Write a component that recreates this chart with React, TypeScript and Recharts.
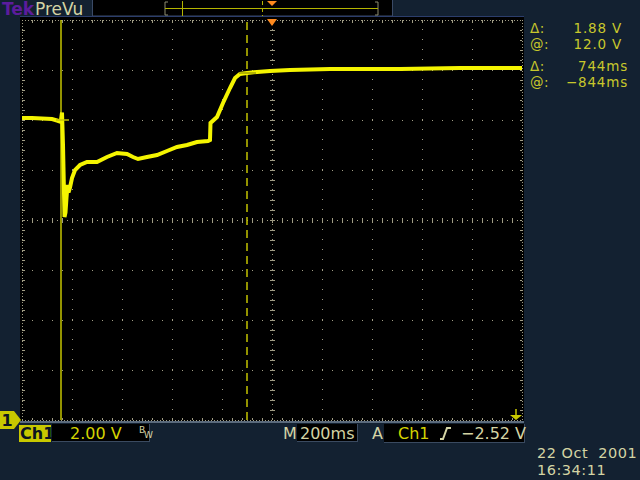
import React from 'react';
import { LineChart, Line, XAxis, YAxis, ReferenceLine, ReferenceDot } from 'recharts';

// Ch1 record: time relative to trigger (ms) and volts
const TIME_MS = [
  -1000, -960, -920, -880, -860, -848, -844, -840, -836, -830,
  -826, -822, -818, -814, -808, -800, -788, -768, -740, -700,
  -660, -620, -580, -556, -536, -500, -460, -420, -380, -340,
  -300, -256, -248, -246, -220, -196, -168, -148, -128, -100,
  -60, -8, 72, 232, 512, 752, 1000,
];
const CH1_VOLTS = [
  12.08, 12.08, 12.06, 12.04, 11.98, 11.94, 12.0, 12.3, 11.0, 8.12,
  8.3, 8.9, 9.4, 9.1, 9.3, 9.68, 10.0, 10.2, 10.32, 10.32,
  10.52, 10.68, 10.64, 10.52, 10.44, 10.52, 10.6, 10.76, 10.92, 11.0,
  11.12, 11.16, 11.2, 11.88, 12.12, 12.68, 13.28, 13.68, 13.84, 13.88,
  13.92, 13.96, 14.0, 14.04, 14.04, 14.08, 14.08,
];

// graticule: 200 ms/div, 2 V/div, ground on the bottom line
const TIME_RANGE = [-1000, 1000];
const VOLT_RANGE = [0, 16];
const TIME_DIVS = [-800, -600, -400, -200, 200, 400, 600, 800];
const VOLT_DIVS = [2, 4, 6, 10, 12, 14];
const TIME_CENTER = 0;
const VOLT_CENTER = 8;
const MINOR_MS = Array.from({ length: 49 }, (_, i) => -960 + i * 40);
const MINOR_V = Array.from({ length: 39 }, (_, i) => +(0.4 + i * 0.4).toFixed(1));

// cursors and markers
const CURSOR_A_MS = -844;
const CURSOR_B_MS = -100;
const CURSOR_A_V = 12.0;
const CURSOR_B_V = 13.88;
const TRIG_ARROW_MS = 976;

const READOUTS = [
  { label: 'Δ:', value: '1.88 V', top: 20, right: 622 },
  { label: '@:', value: '12.0 V', top: 36, right: 622 },
  { label: 'Δ:', value: '744ms', top: 58, right: 628 },
  { label: '@:', value: '−844ms', top: 74, right: 628 },
];

const data = TIME_MS.map((t, i) => ({ t, v: CH1_VOLTS[i] }));

const NAVY = '#132131';
const GRID = '#a09c84';
const TRACE = '#f4f400';
const CURSOR = '#c4c400';
const BEIGE = '#d4d4a4';
const OLIVE = '#c8c82c';

const txt = (extra: React.CSSProperties): React.CSSProperties => ({
  position: 'absolute',
  fontSize: 16,
  lineHeight: '16px',
  whiteSpace: 'pre',
  ...extra,
});

export default function App() {
  const crisp = { shapeRendering: 'crispEdges' } as any;
  return (
    <div
      style={{
        position: 'absolute',
        left: 0,
        top: 0,
        width: 640,
        height: 480,
        background: NAVY,
        overflow: 'hidden',
        fontFamily: '"DejaVu Sans", sans-serif',
      }}
    >
      {/* header */}
      <div style={txt({ left: 2, top: 0, fontSize: 17, lineHeight: '18px', color: '#5c1c9c', fontWeight: 700 })}>Tek</div>
      <div style={txt({ left: 35, top: 0, fontSize: 17, lineHeight: '18px', color: BEIGE })}>PreVu</div>
      <svg width={302} height={17} style={{ position: 'absolute', left: 92, top: 0 }}>
        <rect x={0.5} y={-1} width={300} height={17} fill="#000" stroke="#3a4a66" />
        <path d="M76 2 H73 V15 H76 M283 2 H286 V15 H283" stroke="#8c8c70" fill="none" />
        <line x1={73} y1={8.5} x2={286} y2={8.5} stroke="#b4b400" />
        <line x1={90.5} y1={1} x2={90.5} y2={16} stroke="#b4b400" />
        <line x1={170.5} y1={1} x2={170.5} y2={16} stroke="#b4b400" strokeDasharray="4 3" />
        <path d="M175 1 H185 L180 6 Z" fill="#ff8a1e" />
      </svg>

      {/* screen background */}
      <div
        style={{
          position: 'absolute',
          left: 20,
          top: 16,
          width: 504,
          height: 404,
          background: '#000',
          borderTop: '1px solid #2c3e6c',
          borderBottom: '2px solid #5a6a7c',
        }}
      />

      <div style={{ position: 'absolute', left: 0, top: 0 }}>
        <LineChart width={640} height={480} data={data} margin={{ top: 20, right: 118, bottom: 60, left: 22 }}>
          <XAxis type="number" dataKey="t" domain={TIME_RANGE} allowDataOverflow hide />
          <YAxis type="number" domain={VOLT_RANGE} allowDataOverflow hide />

          {TIME_DIVS.map((t) => (
            <ReferenceLine key={'vx' + t} x={t} stroke={GRID} strokeDasharray="1 9" {...crisp} />
          ))}
          {VOLT_DIVS.map((v) => (
            <ReferenceLine key={'hy' + v} y={v} stroke={GRID} strokeDasharray="1 9" {...crisp} />
          ))}
          <ReferenceLine x={TIME_CENTER} stroke={GRID} strokeDasharray="1 4" {...crisp} />
          <ReferenceLine y={VOLT_CENTER} stroke={GRID} strokeDasharray="1 4" {...crisp} />
          {/* border */}
          <ReferenceLine x={TIME_RANGE[0]} stroke={GRID} strokeDasharray="1 2" {...crisp} />
          <ReferenceLine x={TIME_RANGE[1]} stroke={GRID} strokeDasharray="1 2" {...crisp} />
          <ReferenceLine y={VOLT_RANGE[0]} stroke={GRID} strokeDasharray="1 2" {...crisp} />
          <ReferenceLine y={VOLT_RANGE[1]} stroke={GRID} strokeDasharray="1 2" {...crisp} />

          {MINOR_MS.map((t) => (
            <ReferenceLine key={'cx' + t} segment={[{ x: t, y: VOLT_CENTER - 0.1 }, { x: t, y: VOLT_CENTER + 0.1 }]} stroke={GRID} {...crisp} />
          ))}
          {MINOR_V.map((v) => (
            <ReferenceLine key={'cy' + v} segment={[{ x: TIME_CENTER - 10, y: v }, { x: TIME_CENTER + 10, y: v }]} stroke={GRID} {...crisp} />
          ))}
          {MINOR_MS.map((t) => (
            <ReferenceLine key={'tt' + t} segment={[{ x: t, y: VOLT_RANGE[1] }, { x: t, y: VOLT_RANGE[1] - 0.1 }]} stroke={GRID} {...crisp} />
          ))}
          {MINOR_MS.map((t) => (
            <ReferenceLine key={'bt' + t} segment={[{ x: t, y: VOLT_RANGE[0] }, { x: t, y: VOLT_RANGE[0] + 0.1 }]} stroke={GRID} {...crisp} />
          ))}
          {MINOR_V.map((v) => (
            <ReferenceLine key={'lt' + v} segment={[{ x: TIME_RANGE[0], y: v }, { x: TIME_RANGE[0] + 10, y: v }]} stroke={GRID} {...crisp} />
          ))}
          {MINOR_V.map((v) => (
            <ReferenceLine key={'rt' + v} segment={[{ x: TIME_RANGE[1], y: v }, { x: TIME_RANGE[1] - 10, y: v }]} stroke={GRID} {...crisp} />
          ))}

          {/* cursors */}
          <ReferenceLine x={CURSOR_A_MS} stroke={CURSOR} strokeWidth={1.5} />
          <ReferenceLine x={CURSOR_B_MS} stroke={CURSOR} strokeWidth={1.5} strokeDasharray="8 5" />

          <Line type="linear" dataKey="v" stroke={TRACE} strokeWidth={4} dot={false} isAnimationActive={false} />

          <ReferenceLine segment={[{ x: CURSOR_A_MS - 20, y: CURSOR_A_V }, { x: CURSOR_A_MS + 32, y: CURSOR_A_V }]} stroke={CURSOR} strokeWidth={1.5} />
          <ReferenceLine segment={[{ x: CURSOR_B_MS - 32, y: CURSOR_B_V }, { x: CURSOR_B_MS + 36, y: CURSOR_B_V }]} stroke="#a0a000" strokeWidth={1.5} />

          {/* trigger position marker */}
          <ReferenceDot
            x={TIME_CENTER}
            y={VOLT_RANGE[1]}
            r={1}
            shape={(p: any) => <path d={`M${p.cx - 5} ${p.cy - 1} H${p.cx + 5} L${p.cx} ${p.cy + 6} Z`} fill="#ff8a1e" />}
          />
          {/* trigger level below screen */}
          <ReferenceDot
            x={TRIG_ARROW_MS}
            y={VOLT_RANGE[0]}
            r={1}
            shape={(p: any) => (
              <g fill="#c8c800" stroke="#c8c800">
                <line x1={p.cx} y1={p.cy - 11} x2={p.cx} y2={p.cy - 4} strokeWidth={1.5} />
                <path d={`M${p.cx - 6} ${p.cy - 5} H${p.cx + 6} L${p.cx} ${p.cy} Z`} stroke="none" />
              </g>
            )}
          />
          {/* ground reference */}
          <ReferenceDot
            x={TIME_RANGE[0]}
            y={VOLT_RANGE[0]}
            r={1}
            shape={(p: any) => (
              <g>
                <path
                  d={`M${p.cx - 22} ${p.cy - 9} H${p.cx - 8} L${p.cx - 1} ${p.cy} L${p.cx - 8} ${p.cy + 9} H${p.cx - 22} Z`}
                  fill="#c8c800"
                />
                <text x={p.cx - 15} y={p.cy + 6} fontSize={16} fontWeight={700} fill="#0c1420" textAnchor="middle" fontFamily="DejaVu Sans">
                  1
                </text>
              </g>
            )}
          />
        </LineChart>
      </div>

      {/* cursor readouts */}
      {READOUTS.map((r, i) => (
        <React.Fragment key={i}>
          <div style={txt({ left: 530, top: r.top, fontSize: 13.5, lineHeight: '16px', color: OLIVE, letterSpacing: 0.5 })}>{r.label}</div>
          <div style={txt({ left: r.right - 70, width: 70, top: r.top, fontSize: 13.5, lineHeight: '16px', color: OLIVE, textAlign: 'right', letterSpacing: 0.8 })}>{r.value}</div>
        </React.Fragment>
      ))}

      {/* status bar */}
      <div style={txt({ left: 19, top: 425, width: 31, height: 17, background: '#c8c800', color: '#0c1420', fontWeight: 700, lineHeight: '17px', paddingLeft: 1 })}>Ch1</div>
      <div style={{ position: 'absolute', left: 52, top: 424, width: 97, height: 17, background: '#000', borderRight: '1px solid #3a4a60', borderBottom: '1px solid #3a4a60' }} />
      <div style={txt({ left: 70, top: 426, color: '#d4d400' })}>2.00 V</div>
      <div style={txt({ left: 139, top: 426, fontSize: 9, lineHeight: '9px', color: BEIGE })}>B</div>
      <div style={txt({ left: 144, top: 431, fontSize: 9, lineHeight: '9px', color: BEIGE })}>W</div>

      <div style={txt({ left: 283, top: 426, color: BEIGE })}>M</div>
      <div style={{ position: 'absolute', left: 297, top: 424, width: 60, height: 17, background: '#000', borderRight: '1px solid #3a4a60', borderBottom: '1px solid #3a4a60' }} />
      <div style={txt({ left: 300, top: 426, color: BEIGE })}>200ms</div>

      <div style={txt({ left: 372, top: 426, color: BEIGE })}>A</div>
      <div style={{ position: 'absolute', left: 384, top: 424, width: 140, height: 18, background: '#000', borderRight: '1px solid #3a4a60', borderBottom: '1px solid #3a4a60' }} />
      <div style={txt({ left: 398, top: 426, color: '#d4d400' })}>Ch1</div>
      <svg width={14} height={16} style={{ position: 'absolute', left: 439, top: 426 }}>
        <path d="M1 13 H4 L8 2 H12" stroke={BEIGE} strokeWidth={2} fill="none" />
      </svg>
      <div style={txt({ left: 461, top: 426, color: BEIGE })}>−2.52 V</div>

      <div style={txt({ left: 537, top: 445, fontSize: 14.5, lineHeight: '17px', letterSpacing: 0.5, color: BEIGE })}>{'22 Oct  2001'}</div>
      <div style={txt({ left: 537, top: 462, fontSize: 14.5, lineHeight: '17px', letterSpacing: 0.5, color: BEIGE })}>16:34:11</div>
    </div>
  );
}
